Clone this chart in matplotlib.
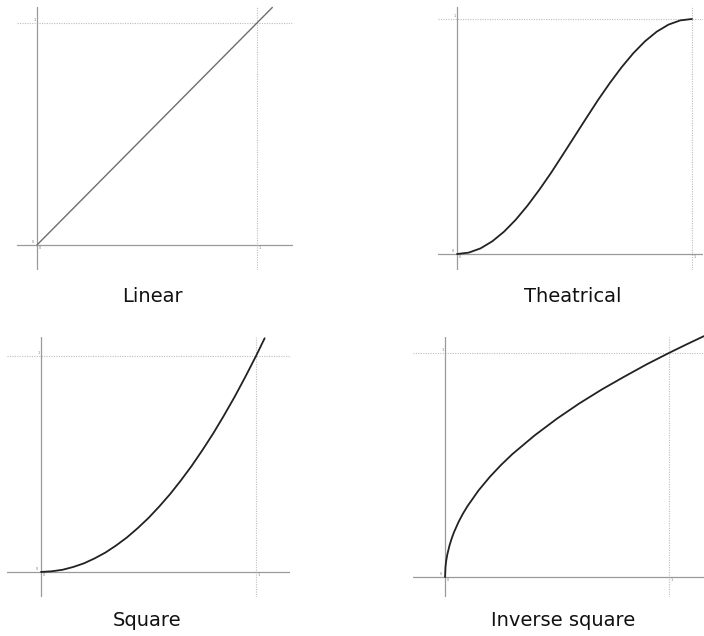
#!/usr/bin/env python3
"""Four easing curves (linear, theatrical, square, inverse square) on 0..1 axes."""
import matplotlib

matplotlib.use("Agg")
import matplotlib.pyplot as plt

W, H = 704, 636

# values
LINEAR_X = [0.0, 1.07]
LINEAR_Y = [0.0, 1.07]

THEATRICAL_X = [0.0, 0.05, 0.1, 0.15, 0.2, 0.25, 0.3, 0.35, 0.4, 0.45, 0.5,
                0.55, 0.6, 0.65, 0.7, 0.75, 0.8, 0.85, 0.9, 0.95, 1.0]
THEATRICAL_Y = [0.0, 0.006, 0.024, 0.054, 0.095, 0.146, 0.206, 0.273, 0.345, 0.422, 0.5,
                0.578, 0.655, 0.727, 0.794, 0.854, 0.905, 0.946, 0.976, 0.994, 1.0]

SQUARE_X = [0.0, 0.05, 0.1, 0.15, 0.2, 0.25, 0.3, 0.35, 0.4, 0.45, 0.5,
            0.55, 0.6, 0.65, 0.7, 0.75, 0.8, 0.85, 0.9, 0.95, 1.0, 1.04]
SQUARE_Y = [0.0, 0.003, 0.01, 0.023, 0.04, 0.063, 0.09, 0.123, 0.16, 0.203, 0.25,
            0.303, 0.36, 0.423, 0.49, 0.563, 0.64, 0.723, 0.81, 0.903, 1.0, 1.082]

INVSQ_X = [0.0, 0.002, 0.005, 0.01, 0.02, 0.03, 0.04, 0.06, 0.08, 0.1, 0.15, 0.2,
           0.25, 0.3, 0.4, 0.5, 0.6, 0.7, 0.8, 0.9, 1.0, 1.08, 1.156]
INVSQ_Y = [0.0, 0.045, 0.071, 0.1, 0.141, 0.173, 0.2, 0.245, 0.283, 0.316, 0.387, 0.447,
           0.5, 0.548, 0.632, 0.707, 0.775, 0.837, 0.894, 0.949, 1.0, 1.039, 1.075]

TITLES = ["Linear", "Theatrical", "Square", "Inverse square"]

# panel boxes in pixels (left, top, right, bottom) and axis limits
PANELS = [
    dict(box=(17, 7, 293, 270), xlim=(-0.091, 1.164), ylim=(-0.113, 1.072),
         x=LINEAR_X, y=LINEAR_Y, color="#6e6e6e", lw=1.0, title_xy=(152, 296)),
    dict(box=(438, 7, 703, 270), xlim=(-0.081, 1.047), ylim=(-0.068, 1.051),
         x=THEATRICAL_X, y=THEATRICAL_Y, color="#222222", lw=1.3, title_xy=(573, 296)),
    dict(box=(7, 337, 290, 597), xlim=(-0.158, 1.158), ylim=(-0.116, 1.088),
         x=SQUARE_X, y=SQUARE_Y, color="#222222", lw=1.3, title_xy=(147, 621)),
    dict(box=(413, 337, 704, 597), xlim=(-0.143, 1.156), ylim=(-0.089, 1.071),
         x=INVSQ_X, y=INVSQ_Y, color="#222222", lw=1.3, title_xy=(563, 621)),
]

fig = plt.figure(figsize=(W / 100, H / 100), dpi=100)
fig.patch.set_facecolor("white")

for p, title in zip(PANELS, TITLES):
    l, t, r, b = p["box"]
    ax = fig.add_axes([l / W, (H - b) / H, (r - l) / W, (b - t) / H])
    ax.set_xlim(*p["xlim"])
    ax.set_ylim(*p["ylim"])
    ax.axis("off")
    # dotted guides at 1
    ax.axhline(1, color="#bdbdbd", lw=0.8, ls=(0, (1, 1.2)), zorder=1)
    ax.axvline(1, color="#bdbdbd", lw=0.8, ls=(0, (1, 1.2)), zorder=1)
    # axes through origin
    ax.axhline(0, color="#9a9a9a", lw=0.9, zorder=2)
    ax.axvline(0, color="#9a9a9a", lw=0.9, zorder=2)
    ax.plot(p["x"], p["y"], color=p["color"], lw=p["lw"], zorder=3,
            solid_capstyle="round", solid_joinstyle="round", clip_on=False)
    # tiny tick labels
    tk = dict(fontsize=2.5, color="#777777")
    ax.annotate("0", (0, 0), xytext=(-2, 1), textcoords="offset points",
                ha="right", va="bottom", **tk)
    ax.annotate("0", (0, 0), xytext=(1, -1), textcoords="offset points",
                ha="left", va="top", **tk)
    ax.annotate("1", (0, 1), xytext=(-1, 1), textcoords="offset points",
                ha="right", va="bottom", **tk)
    ax.annotate("1", (1, 0), xytext=(1, -1), textcoords="offset points",
                ha="left", va="top", **tk)

    tx, ty = p["title_xy"]
    fig.text(tx / W, 1 - ty / H, title, ha="center", va="center",
             fontsize=14, color="#111111", family="DejaVu Sans")

fig.savefig("out.png", dpi=100, facecolor="white")
